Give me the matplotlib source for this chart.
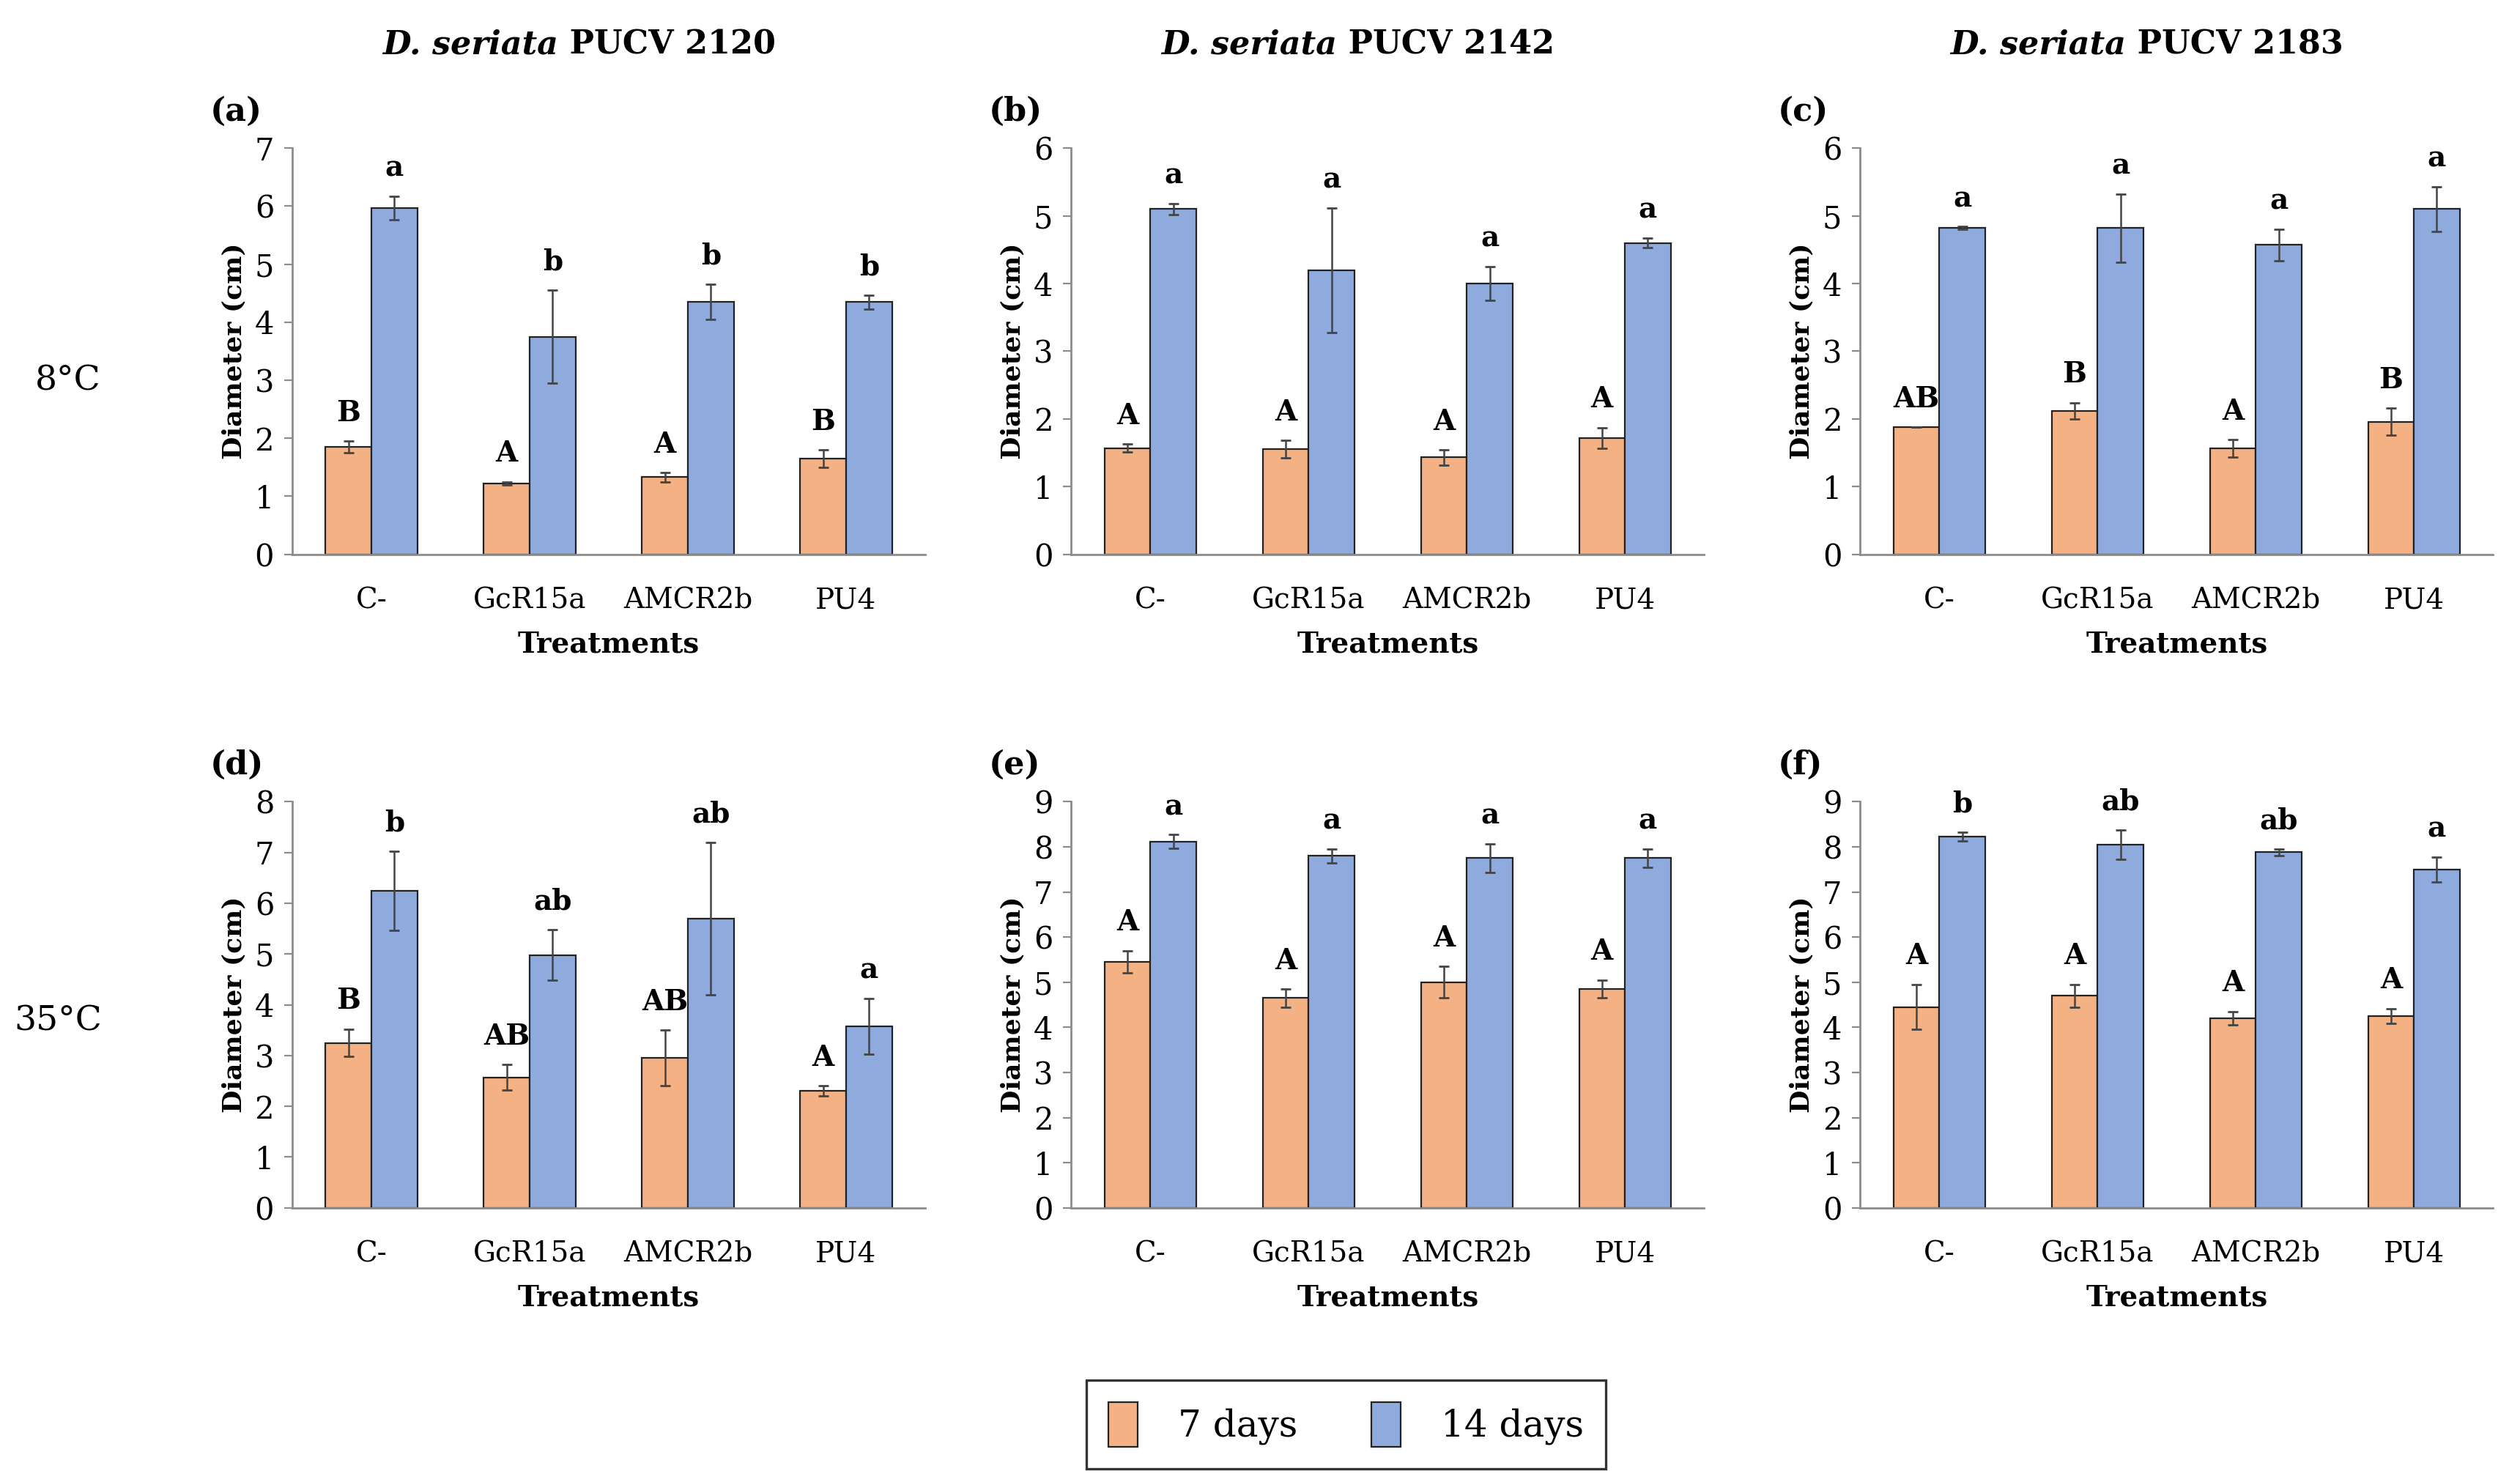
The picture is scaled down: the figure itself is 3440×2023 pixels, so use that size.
import matplotlib.pyplot as plt
import numpy as np

treatments = ['C-', 'GcR15a', 'AMCR2b', 'PU4']
strains = ['PUCV 2120', 'PUCV 2142', 'PUCV 2183']
panel_tags = ['(a)', '(b)', '(c)', '(d)', '(e)', '(f)']
row_labels = ['8°C', '35°C']
ymax = [7, 6, 6, 8, 9, 9]

# 7 days (mean, error)
d7_mean = [
    [1.85, 1.22, 1.33, 1.65],
    [1.57, 1.55, 1.43, 1.72],
    [1.88, 2.12, 1.56, 1.96],
    [3.25, 2.57, 2.95, 2.30],
    [5.45, 4.65, 5.00, 4.85],
    [4.45, 4.70, 4.20, 4.25],
]
d7_err = [
    [0.10, 0.03, 0.08, 0.15],
    [0.06, 0.13, 0.11, 0.15],
    [0.00, 0.12, 0.13, 0.20],
    [0.27, 0.25, 0.55, 0.10],
    [0.25, 0.20, 0.35, 0.20],
    [0.50, 0.25, 0.15, 0.17],
]
d14_mean = [
    [5.97, 3.75, 4.35, 4.35],
    [5.10, 4.20, 4.00, 4.60],
    [4.82, 4.82, 4.57, 5.10],
    [6.25, 4.98, 5.70, 3.58],
    [8.12, 7.80, 7.75, 7.75],
    [8.23, 8.05, 7.88, 7.50],
]
d14_err = [
    [0.20, 0.80, 0.30, 0.12],
    [0.08, 0.92, 0.25, 0.07],
    [0.02, 0.50, 0.23, 0.33],
    [0.78, 0.50, 1.50, 0.55],
    [0.15, 0.15, 0.32, 0.20],
    [0.10, 0.32, 0.07, 0.28],
]
d7_letters = [
    ['B', 'A', 'A', 'B'],
    ['A', 'A', 'A', 'A'],
    ['AB', 'B', 'A', 'B'],
    ['B', 'AB', 'AB', 'A'],
    ['A', 'A', 'A', 'A'],
    ['A', 'A', 'A', 'A'],
]
d14_letters = [
    ['a', 'b', 'b', 'b'],
    ['a', 'a', 'a', 'a'],
    ['a', 'a', 'a', 'a'],
    ['b', 'ab', 'ab', 'a'],
    ['a', 'a', 'a', 'a'],
    ['b', 'ab', 'ab', 'a'],
]

ORANGE = '#F4B183'
BLUE = '#8FAADC'


def main():
    plt.rcParams['font.family'] = ['DejaVu Serif']
    fig = plt.figure(figsize=(17.205, 10.115), dpi=200)

    lefts = [0.116, 0.425, 0.738]
    bottoms = [0.626, 0.185]
    w, h = 0.251, 0.274
    x = np.arange(len(treatments))
    bw = 0.29

    for i in range(6):
        r, c = divmod(i, 3)
        ax = fig.add_axes([lefts[c], bottoms[r], w, h])
        top = ymax[i]
        b7 = ax.bar(x - bw / 2, d7_mean[i], bw, color=ORANGE,
                    edgecolor='#222222', linewidth=0.8)
        b14 = ax.bar(x + bw / 2, d14_mean[i], bw, color=BLUE,
                     edgecolor='#222222', linewidth=0.8)
        ax.errorbar(x - bw / 2, d7_mean[i], yerr=d7_err[i], fmt='none',
                    ecolor='#444444', elinewidth=0.9, capsize=2.5)
        ax.errorbar(x + bw / 2, d14_mean[i], yerr=d14_err[i], fmt='none',
                    ecolor='#444444', elinewidth=0.9, capsize=2.5)
        off = 0.035 * top
        for k in range(len(treatments)):
            ax.text(x[k] - bw / 2, d7_mean[i][k] + d7_err[i][k] + off,
                    d7_letters[i][k], ha='center', va='bottom',
                    fontsize=14, fontweight='bold')
            ax.text(x[k] + bw / 2, d14_mean[i][k] + d14_err[i][k] + off,
                    d14_letters[i][k], ha='center', va='bottom',
                    fontsize=14, fontweight='bold')

        ax.set_xlim(-0.5, len(treatments) - 0.5)
        ax.set_ylim(0, top)
        ax.set_yticks(range(0, top + 1))
        ax.set_xticks(x)
        ax.set_xticklabels(treatments, fontsize=14)
        ax.tick_params(axis='x', length=0, pad=16)
        ax.tick_params(axis='y', labelsize=15, length=4, color='#8c8c8c',
                       pad=5)
        for s in ['top', 'right']:
            ax.spines[s].set_visible(False)
        for s in ['left', 'bottom']:
            ax.spines[s].set_color('#8c8c8c')
            ax.spines[s].set_linewidth(1.0)
        ax.set_ylabel('Diameter (cm)', fontsize=13, fontweight='bold',
                      labelpad=4)
        ax.set_xlabel('Treatments', fontsize=14, fontweight='bold',
                      labelpad=8)
        ax.text(-0.13, 1.09, panel_tags[i], transform=ax.transAxes,
                fontsize=16, fontweight='bold', ha='left', va='center')

        if r == 0:
            ax.text(0.42, 1.255, 'D. seriata', transform=ax.transAxes,
                    fontsize=16, fontweight='bold', style='italic',
                    ha='right', va='center')
            ax.text(0.42, 1.255, ' ' + strains[c], transform=ax.transAxes,
                    fontsize=16, fontweight='bold', ha='left', va='center')

    fig.text(0.027, 0.743, row_labels[0], fontsize=17, ha='center',
             va='center')
    fig.text(0.023, 0.311, row_labels[1], fontsize=17, ha='center',
             va='center')

    leg = fig.legend([b7, b14], ['7 days', '14 days'], loc='center',
                     bbox_to_anchor=(0.534, 0.039), ncol=2, fontsize=18,
                     frameon=True, fancybox=False, edgecolor='black',
                     handlelength=0.8, handleheight=1.5, columnspacing=2.0,
                     borderpad=0.6, handletextpad=1.1)
    leg.get_frame().set_linewidth(1.2)

    fig.savefig('out.png', dpi=200)


if __name__ == '__main__':
    main()
